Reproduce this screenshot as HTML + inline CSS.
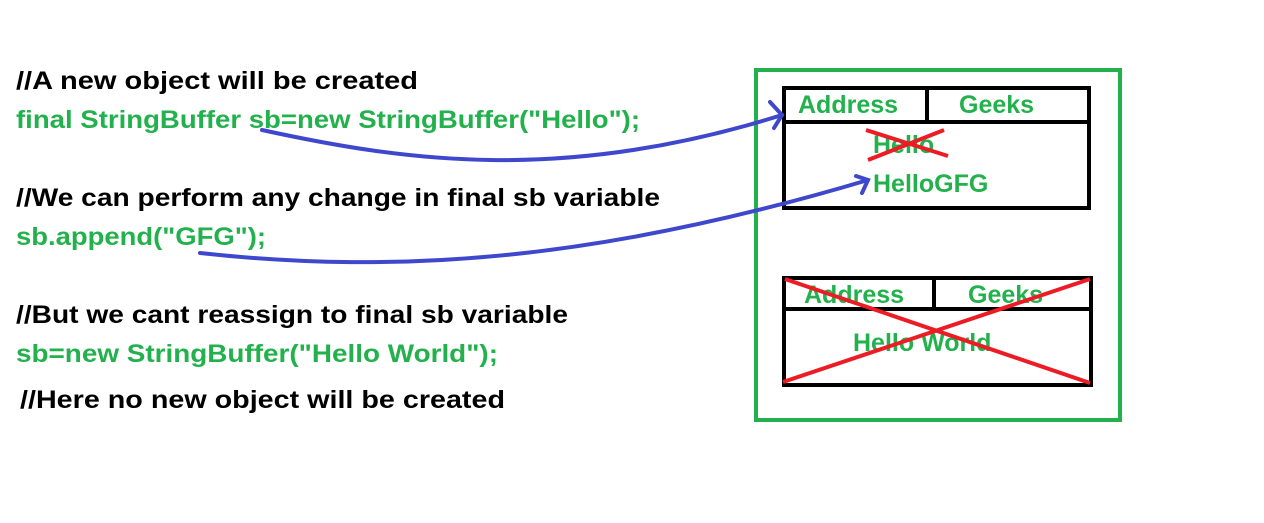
<!DOCTYPE html>
<html><head><meta charset="utf-8"><style>html,body{margin:0;padding:0;background:#fff}</style></head>
<body>
<svg width="1264" height="518" viewBox="0 0 1264 518" xmlns="http://www.w3.org/2000/svg" font-family="Liberation Sans, sans-serif" font-weight="bold" font-size="25">
<rect x="0" y="0" width="1264" height="518" fill="#fff"/>
<g fill="#000">
<text x="16" y="89" textLength="402" lengthAdjust="spacingAndGlyphs">//A new object will be created</text>
<text x="16" y="206" textLength="644" lengthAdjust="spacingAndGlyphs">//We can perform any change in final sb variable</text>
<text x="16" y="323" textLength="552" lengthAdjust="spacingAndGlyphs">//But we cant reassign to final sb variable</text>
<text x="20" y="408" textLength="485" lengthAdjust="spacingAndGlyphs">//Here no new object will be created</text>
</g>
<g fill="#22b14c">
<text x="16" y="128" textLength="624" lengthAdjust="spacingAndGlyphs">final StringBuffer sb=new StringBuffer("Hello");</text>
<text x="16" y="245" textLength="250" lengthAdjust="spacingAndGlyphs">sb.append("GFG");</text>
<text x="16" y="362" textLength="482" lengthAdjust="spacingAndGlyphs">sb=new StringBuffer("Hello World");</text>
</g>
<rect x="756" y="70" width="364" height="350" fill="none" stroke="#22b14c" stroke-width="4"/>
<g fill="none" stroke="#000" stroke-width="4">
<rect x="784" y="88" width="305" height="120"/>
<line x1="784" y1="122" x2="1089" y2="122"/>
<line x1="927" y1="88" x2="927" y2="122"/>
<rect x="784" y="278" width="307" height="107"/>
<line x1="784" y1="309" x2="1091" y2="309"/>
<line x1="934" y1="278" x2="934" y2="309"/>
</g>
<g fill="#22b14c">
<text x="798" y="113">Address</text>
<text x="959" y="113">Geeks</text>
<text x="873" y="153">Hello</text>
<text x="873" y="192">HelloGFG</text>
<text x="804" y="303">Address</text>
<text x="968" y="303">Geeks</text>
<text x="853" y="351">Hello World</text>
</g>
<g stroke="#ed1c24" stroke-width="4" fill="none">
<line x1="866" y1="130" x2="948" y2="156"/>
<line x1="868" y1="160" x2="944" y2="130"/>
<line x1="785" y1="279" x2="1090" y2="383"/>
<line x1="783" y1="382" x2="1090" y2="279"/>
</g>
<g stroke="#3f48cc" stroke-width="4" fill="none" stroke-linecap="round">
<path d="M262 130 C 400 160, 560 185, 782 115"/>
<path d="M770 102 L782 115 L774 128"/>
<path d="M200 253 C 400 275, 600 260, 868 180"/>
<path d="M856 176 L868 180 L862 193"/>
</g>
</svg>
</body></html>
